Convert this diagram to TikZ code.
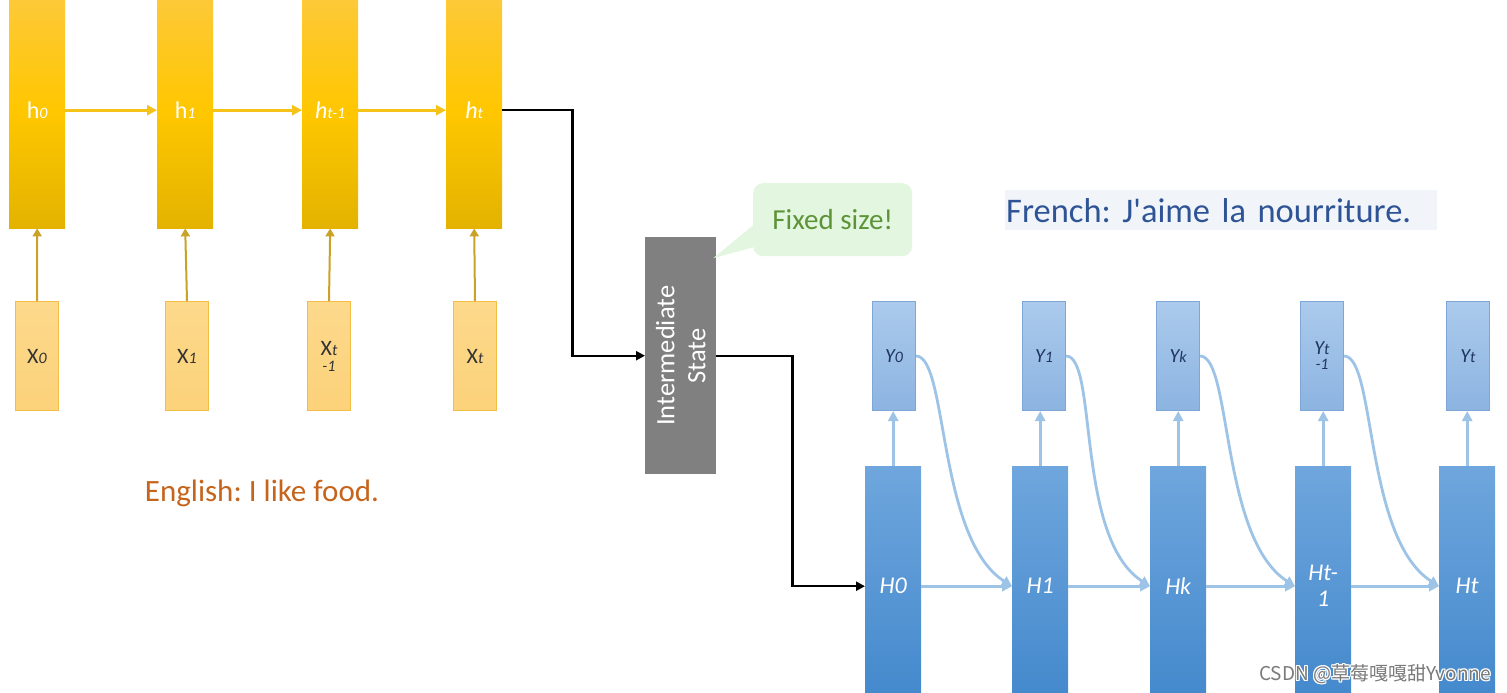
\documentclass[tikz,border=0pt]{standalone}
\usepackage{fontspec}
\setmainfont{Carlito}[Ligatures=TeXOff]
\newfontfamily\cjk{Noto Sans CJK SC}
\usetikzlibrary{arrows.meta,calc}
\definecolor{hTop}{HTML}{FDC93C}
\definecolor{hMid}{HTML}{FFC700}
\definecolor{hBot}{HTML}{E3B300}
\definecolor{xFill}{HTML}{FDD98C}
\definecolor{xBot}{HTML}{FCD27A}
\definecolor{xLine}{HTML}{F2BE45}
\definecolor{yArr}{HTML}{F5C21A}
\definecolor{xArr}{HTML}{C9A227}
\definecolor{isGray}{HTML}{808080}
\definecolor{callFill}{HTML}{E2F6E0}
\definecolor{callText}{HTML}{5E9438}
\definecolor{engText}{HTML}{C5651D}
\definecolor{frText}{HTML}{2F5496}
\definecolor{frBg}{HTML}{F1F5F9}
\definecolor{YTop}{HTML}{ABCAEC}
\definecolor{YBot}{HTML}{8CB4E1}
\definecolor{YLine}{HTML}{7EA7D8}
\definecolor{YText}{HTML}{1F3560}
\definecolor{HTop}{HTML}{6FA6DD}
\definecolor{HBot}{HTML}{4288CC}
\definecolor{bArr}{HTML}{9DC3E6}
\definecolor{wm}{HTML}{7A7A7A}
\tikzset{
  hbox/.style={rectangle, anchor=north west, inner sep=0pt, minimum width=56pt, minimum height=236pt,
    top color=hTop, bottom color=hBot, middle color=hMid, text=white, font=\fontsize{24}{26}\selectfont},
  xbox/.style={rectangle, anchor=north west, inner sep=0pt, minimum width=43pt, minimum height=109pt,
    top color=xFill, bottom color=xBot, draw=xLine, line width=1pt, text=black!80, align=center,
    font=\fontsize{22}{17}\selectfont},
  Ybox/.style={rectangle, anchor=north west, inner sep=0pt, minimum width=43pt, minimum height=109pt,
    top color=YTop, bottom color=YBot, draw=YLine, line width=1pt, text=YText, align=center,
    font=\fontsize{20}{16}\selectfont\itshape},
  Hbox/.style={rectangle, anchor=north west, inner sep=0pt, minimum width=56pt, minimum height=240pt,
    top color=HTop, bottom color=HBot, text=white, align=center,
    font=\fontsize{24}{26}\selectfont\itshape},
  yarrow/.style={draw=yArr, line width=2.8pt, -{Triangle[length=10pt,width=10pt]}},
  xarrow/.style={draw=xArr, line width=2pt, -{Triangle[length=8pt,width=9pt]}},
  karrow/.style={draw=black, line width=2.3pt, -{Triangle[length=9pt,width=9pt]}},
  barrow/.style={draw=bArr, line width=2.8pt, -{Triangle[length=10pt,width=10pt]}},
  curvearrow/.style={barrow, looseness=1},
  wmtext/.style={font=\cjk\fontsize{19}{22}\selectfont}
}
\newcommand{\sm}[1]{{\fontsize{16}{16}\selectfont\itshape #1}}
\begin{document}
\begin{tikzpicture}[x=1pt,y=-1pt]
\frenchspacing
\useasboundingbox (0,0) rectangle (1507,693);
% encoder hidden states
\node[hbox] (h0) at (9,-8) {h\sm{0}};
\node[hbox] (h1) at (157,-8) {h\sm{1}};
\node[hbox] (h2) at (302,-8) {\itshape h\sm{t-1}};
\node[hbox] (h3) at (446,-8) {\itshape h\sm{t}};
% inputs
\node[xbox] (x0) at (15,301) {X\sm{0}};
\node[xbox] (x1) at (165,301) {X\sm{1}};
\node[xbox] (x2) at (307,301) {X\sm{t}\\[-1pt]\sm{-1}};
\node[xbox] (x3) at (453,301) {X\sm{t}};
\draw[yarrow] (h0.east) -- (h1.west);
\draw[yarrow] (h1.east) -- (h2.west);
\draw[yarrow] (h2.east) -- (h3.west);
\foreach \i in {0,1,2,3}{\draw[xarrow] (x\i.north) -- (h\i.south);}
% intermediate state
\node[rectangle, anchor=north west, inner sep=0pt, minimum width=71pt, minimum height=237pt, fill=isGray] (is) at (645,237) {};
\node[rotate=90, text=white, align=center, font=\fontsize{26.5}{31}\selectfont] (istext) at (is.center) {Intermediate\\State};
% callout
\node[rectangle, rounded corners=10pt, anchor=north west, inner sep=0pt, minimum width=159pt, minimum height=73pt, fill=callFill, text=callText, font=\fontsize{29}{32}\selectfont] (fix) at (753,183) {Fixed size!};
\fill[callFill] ($(fix.south west)+(0,-31)$) -- ($(is.north east)+(-3,21)$) -- ($(fix.south west)+(0,-9)$) -- cycle;
% English / French
\node[text=engText, font=\fontsize{31}{34}\selectfont] (eng) at (262,493) {English: I like food.};
\node[anchor=north west, fill=frBg, inner xsep=1pt, inner ysep=0pt, minimum height=40pt, text width=430pt, align=left, text=frText, font=\fontsize{34.5}{36}\selectfont] (fr) at (1005,190) {French: J'aime la nourriture.};
% decoder
\node[Hbox] (H0) at (865,466) {H0};
\node[Hbox] (H1) at (1012,466) {H1};
\node[Hbox] (H2) at (1150,466) {Hk};
\node[Hbox] (H3) at (1295,466) {Ht-\\1};
\node[Hbox] (H4) at (1439,466) {Ht};
\node[Ybox] (Y0) at (872,301) {Y\sm{0}};
\node[Ybox] (Y1) at (1022,301) {Y\sm{1}};
\node[Ybox] (Y2) at (1156,301) {Y\sm{k}};
\node[Ybox] (Y3) at (1300,301) {Y\sm{t}\\[-1pt]\sm{-1}};
\node[Ybox] (Y4) at (1446,301) {Y\sm{t}};
\foreach \i in {0,...,4}{\draw[barrow] (H\i.north) -- (H\i.north |- Y\i.south);}
\draw[barrow] (H0.east) -- (H1.west);
\draw[barrow] (H1.east) -- (H2.west);
\draw[barrow] (H2.east) -- (H3.west);
\draw[barrow] (H3.east) -- (H4.west);
\draw[curvearrow] (Y0.east) .. controls +(32,0) and +(-75,-48) .. (H1.west);
\draw[curvearrow] (Y1.east) .. controls +(32,0) and +(-75,-48) .. (H2.west);
\draw[curvearrow] (Y2.east) .. controls +(32,0) and +(-75,-48) .. (H3.west);
\draw[curvearrow] (Y3.east) .. controls +(32,0) and +(-75,-48) .. (H4.west);
% black connectors
\draw[karrow] (h3.east) -- ++(70,0) |- (is.west);
\draw[karrow] (is.east) -- ++(76,0) |- (H0.west);
% watermark with light halo
\foreach \dx/\dy [count=\k] in {-1/0,1/0,0/-1,0/1,-1/-1,1/1,-1/1,1/-1}{
  \node[wmtext, text=white] (wmh\k) at (1375+\dx,674+\dy) {CSDN @草莓嘎嘎甜Yvonne};
}
\node[wmtext, text=wm] (wmk) at (1375,674) {CSDN @草莓嘎嘎甜Yvonne};
\end{tikzpicture}
\end{document}
